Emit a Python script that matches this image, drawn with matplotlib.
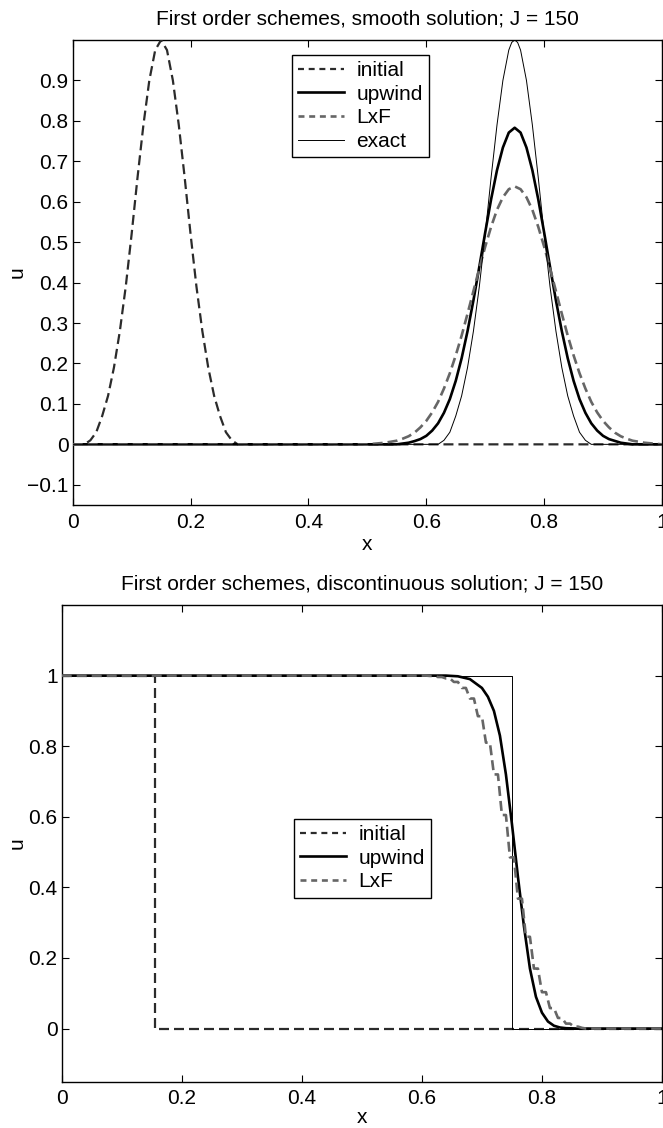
import matplotlib
matplotlib.use("Agg")
import matplotlib.pyplot as plt

plt.rcParams['font.family'] = ['Liberation Sans', 'DejaVu Sans']
plt.rcParams['lines.scale_dashes'] = False

# ---------------- data: smooth solution (top) ----------------
x_init_s = [0.00, 0.02, 0.03, 0.04, 0.05, 0.06, 0.07, 0.08, 0.09, 0.10, 0.11, 0.12, 0.13, 0.14,
            0.15, 0.16, 0.17, 0.18, 0.19, 0.20, 0.21, 0.22, 0.23, 0.24, 0.25, 0.26, 0.27, 0.28,
            0.30, 1.00]
u_init_s = [0.00, 0.00, 0.01, 0.03, 0.07, 0.12, 0.19, 0.28, 0.39, 0.52, 0.66, 0.79, 0.90, 0.975,
            1.00, 0.975, 0.90, 0.79, 0.66, 0.52, 0.39, 0.28, 0.19, 0.12, 0.07, 0.03, 0.01, 0.00,
            0.00, 0.00]

x_exact_s = [0.00, 0.62, 0.63, 0.64, 0.65, 0.66, 0.67, 0.68, 0.69, 0.70, 0.71, 0.72, 0.73, 0.74,
             0.745, 0.75, 0.755, 0.76, 0.77, 0.78, 0.79, 0.80, 0.81, 0.82, 0.83, 0.84, 0.85, 0.86,
             0.87, 0.88, 1.00]
u_exact_s = [0.00, 0.00, 0.01, 0.03, 0.07, 0.12, 0.19, 0.28, 0.39, 0.52, 0.66, 0.79, 0.90, 0.975,
             0.994, 1.00, 0.994, 0.975, 0.90, 0.79, 0.66, 0.52, 0.39, 0.28, 0.19, 0.12, 0.07, 0.03,
             0.01, 0.00, 0.00]

x_upw_s = [0.00, 0.55, 0.57, 0.58, 0.59, 0.60, 0.61, 0.62, 0.63, 0.64, 0.65, 0.66, 0.67, 0.68,
           0.69, 0.70, 0.71, 0.72, 0.73, 0.74, 0.75, 0.76, 0.77, 0.78, 0.79, 0.80, 0.81, 0.82,
           0.83, 0.84, 0.85, 0.86, 0.87, 0.88, 0.89, 0.90, 0.91, 0.93, 0.95, 1.00]
u_upw_s = [0.00, 0.00, 0.004, 0.008, 0.013, 0.021, 0.034, 0.052, 0.078, 0.112, 0.157, 0.213, 0.280, 0.356,
           0.439, 0.524, 0.606, 0.678, 0.734, 0.771, 0.783, 0.771, 0.734, 0.678, 0.606, 0.524, 0.439, 0.356,
           0.280, 0.213, 0.157, 0.112, 0.078, 0.052, 0.034, 0.021, 0.013, 0.004, 0.00, 0.00]

x_lxf_s = [0.00, 0.50, 0.53, 0.55, 0.56, 0.57, 0.58, 0.59, 0.60, 0.61, 0.62, 0.63, 0.64, 0.65,
           0.66, 0.67, 0.68, 0.69, 0.70, 0.71, 0.72, 0.73, 0.74, 0.75, 0.76, 0.77, 0.78, 0.79,
           0.80, 0.81, 0.82, 0.83, 0.84, 0.85, 0.86, 0.87, 0.88, 0.89, 0.90, 0.91, 0.92, 0.93,
           0.94, 0.95, 0.97, 1.00]
u_lxf_s = [0.00, 0.00, 0.004, 0.009, 0.014, 0.020, 0.029, 0.042, 0.058, 0.079, 0.105, 0.138, 0.176, 0.220,
           0.269, 0.323, 0.379, 0.435, 0.489, 0.538, 0.580, 0.611, 0.631, 0.638, 0.631, 0.611, 0.580, 0.538,
           0.489, 0.435, 0.379, 0.323, 0.269, 0.220, 0.176, 0.138, 0.105, 0.079, 0.058, 0.042, 0.029, 0.020,
           0.014, 0.009, 0.004, 0.00]

# ---------------- data: discontinuous solution (bottom) ----------------
x_init_d = [0.00, 0.155, 0.155, 1.00]
u_init_d = [1.00, 1.00, 0.00, 0.00]

x_exact_d = [0.00, 0.75, 0.75, 1.00]
u_exact_d = [1.00, 1.00, 0.00, 0.00]

x_upw_d = [0.00, 0.64, 0.66, 0.68, 0.70, 0.71, 0.72, 0.73, 0.74, 0.75, 0.76, 0.77, 0.78, 0.79,
           0.80, 0.81, 0.82, 0.83, 0.84, 0.86, 1.00]
u_upw_d = [1.00, 1.00, 0.998, 0.99, 0.965, 0.94, 0.90, 0.83, 0.72, 0.58, 0.43, 0.29, 0.17, 0.09,
           0.045, 0.02, 0.008, 0.003, 0.001, 0.00, 0.00]

x_lxf_d = [0.00, 0.6000, 0.6067, 0.6133, 0.6200, 0.6267, 0.6333, 0.6400, 0.6467, 0.6533, 0.6600,
           0.6667, 0.6733, 0.6800, 0.6867, 0.6933, 0.7000, 0.7067, 0.7133, 0.7200, 0.7267,
           0.7333, 0.7400, 0.7467, 0.7533, 0.7600, 0.7667, 0.7733, 0.7800, 0.7867, 0.7933,
           0.8000, 0.8067, 0.8133, 0.8200, 0.8267, 0.8333, 0.8400, 0.8467, 0.8533, 0.8600,
           0.8667, 0.8733, 1.00]
u_lxf_d = [1.00, 1.000, 1.000, 0.999, 0.999, 0.996, 0.996, 0.992, 0.992, 0.982, 0.982,
           0.965, 0.965, 0.935, 0.935, 0.885, 0.885, 0.810, 0.810, 0.720, 0.720,
           0.605, 0.605, 0.485, 0.485, 0.368, 0.368, 0.260, 0.260, 0.170, 0.170,
           0.103, 0.103, 0.058, 0.058, 0.030, 0.030, 0.014, 0.014, 0.0055, 0.0055,
           0.002, 0.000, 0.00]

titles = ["First order schemes, smooth solution; J = 150",
          "First order schemes, discontinuous solution; J = 150"]
yticks_top = [-0.1, 0, 0.1, 0.2, 0.3, 0.4, 0.5, 0.6, 0.7, 0.8, 0.9]
yticks_bot = [0, 0.2, 0.4, 0.6, 0.8, 1]
xticks = [0, 0.2, 0.4, 0.6, 0.8, 1]

W, H = 663, 1128
fig = plt.figure(figsize=(W / 100, H / 100), dpi=100)

C_INIT = '#2b2b2b'
C_LXF = '#666666'
DASH = (0, (7.2, 3.6))
LEG_DASH = (0, (4.3, 3.4))
FS = 15


def px_axes(l, r, t, b):
    return [l / W, 1 - b / H, (r - l) / W, (b - t) / H]


def style(ax, ylim, yticks, title, ylab_x, xlab_y):
    ax.set_xlim(0, 1)
    ax.set_ylim(*ylim)
    ax.set_xticks(xticks)
    ax.set_xticklabels(['0', '0.2', '0.4', '0.6', '0.8', '1'])
    ax.set_yticks(yticks)
    ax.set_yticklabels([('%g' % v).replace('-', '\u2212') for v in yticks])
    ax.tick_params(direction='in', length=5, width=0.8, top=True, right=True,
                   labelsize=FS, colors='black')
    ax.tick_params(axis='x', pad=5.5)
    ax.tick_params(axis='y', pad=3)
    for s in ax.spines.values():
        s.set_linewidth(1.0)
        s.set_color('black')
    ax.set_title(title, fontsize=FS, pad=11.5)
    ax.set_xlabel('x', fontsize=FS)
    ax.set_ylabel('u', fontsize=FS)
    ax.yaxis.set_label_coords(ylab_x, 0.5)
    ax.xaxis.set_label_coords(0.5, xlab_y)


def make_legend(ax, anchor):
    leg = ax.legend(loc='upper left', bbox_to_anchor=anchor, fontsize=FS,
                    frameon=True, fancybox=False, framealpha=1, edgecolor='black',
                    handlelength=2.2, handletextpad=0.6, labelspacing=0.22,
                    borderpad=0.3, borderaxespad=0)
    leg.get_frame().set_linewidth(1.0)
    for ln in leg.get_lines():
        if ln.get_linestyle() not in ('-', 'solid'):
            ln.set_linestyle(LEG_DASH)
    return leg


# top axes
ax1 = fig.add_axes(px_axes(72.7, 662, 40, 505))
ax1.plot(x_init_s, u_init_s, color=C_INIT, lw=1.6, linestyle=DASH, label='initial', zorder=3)
ax1.plot(x_upw_s, u_upw_s, color='black', lw=1.9, label='upwind', zorder=4)
ax1.plot(x_lxf_s, u_lxf_s, color=C_LXF, lw=1.9, linestyle=DASH, label='LxF', zorder=5)
ax1.plot(x_exact_s, u_exact_s, color='black', lw=0.7, label='exact', zorder=6)
style(ax1, (-0.15, 1.0), yticks_top, titles[0], -0.079, -0.064)
make_legend(ax1, (0.372, 0.968))

# bottom axes
ax2 = fig.add_axes(px_axes(61.7, 662, 605, 1081.5))
ax2.plot(x_init_d, u_init_d, color=C_INIT, lw=1.6, linestyle=DASH, label='initial', zorder=3)
ax2.plot(x_exact_d, u_exact_d, color='black', lw=0.7, zorder=4)
ax2.plot(x_upw_d, u_upw_d, color='black', lw=1.9, label='upwind', zorder=5)
ax2.plot(x_lxf_d, u_lxf_d, color=C_LXF, lw=1.9, linestyle=DASH, label='LxF', zorder=6)
style(ax2, (-0.15, 1.2), yticks_bot, titles[1], -0.059, -0.056)
make_legend(ax2, (0.387, 0.551))

fig.savefig('out.png', dpi=100)
